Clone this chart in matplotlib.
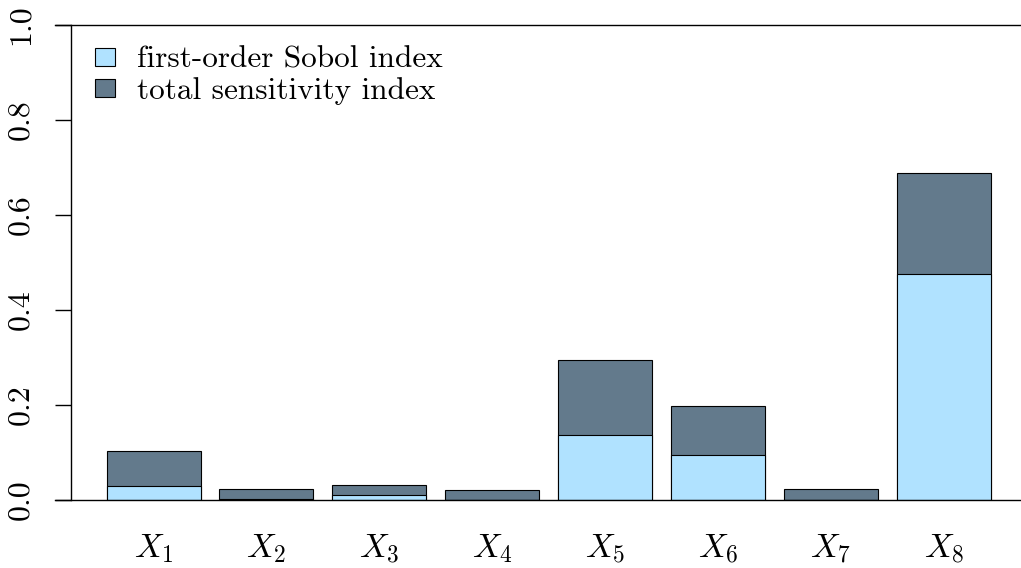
import matplotlib
matplotlib.use("Agg")
import matplotlib.pyplot as plt
import numpy as np

plt.rcParams['font.family'] = ['cmr10', 'DejaVu Serif']
plt.rcParams['mathtext.fontset'] = 'cm'
plt.rcParams['axes.formatter.use_mathtext'] = True

labels = [r'$X_1$', r'$X_2$', r'$X_3$', r'$X_4$', r'$X_5$', r'$X_6$', r'$X_7$', r'$X_8$']
first_order = [0.030, 0.002, 0.011, 0.001, 0.137, 0.095, 0.001, 0.476]
total = [0.103, 0.0225, 0.0316, 0.021, 0.295, 0.198, 0.0225, 0.688]
yticks = [0.0, 0.2, 0.4, 0.6, 0.8, 1.0]

light = '#B0E2FF'
dark = '#637A8C'

fig = plt.figure(figsize=(10.21, 5.68), dpi=100)
ax = fig.add_axes([71/1021, 68/568, 950/1021, 475/568])

x = np.arange(len(labels))
ax.bar(x, total, width=0.833, color=dark, edgecolor='black', linewidth=0.8,
       label='total sensitivity index')
ax.bar(x, first_order, width=0.833, color=light, edgecolor='black', linewidth=0.8,
       label='first-order Sobol index')

ax.set_xlim(-0.731, 7.684)
ax.set_ylim(0, 1)

for s in ['top', 'right', 'bottom']:
    ax.spines[s].set_visible(False)
ax.spines['left'].set_linewidth(1.0)

for yv in [0, 1]:
    ax.axhline(yv, xmin=-16/950, xmax=1, color='black', linewidth=1.0, clip_on=False)

ax.set_yticks(yticks)
ax.set_yticklabels(['%.1f' % v for v in yticks], rotation=90, va='center', fontsize=23)
ax.tick_params(axis='y', length=11.5, width=1.0, pad=15)

ax.set_xticks(x)
ax.set_xticklabels(labels, fontsize=24)
ax.tick_params(axis='x', length=0, pad=23)

h, l = ax.get_legend_handles_labels()
ax.legend(h[::-1], l[::-1], loc='upper left', bbox_to_anchor=(0.0253, 0.956), frameon=False,
          fontsize=22.5, handlelength=0.64, handleheight=0.51, handletextpad=0.7,
          labelspacing=0.1, borderaxespad=0, borderpad=0)

fig.savefig('out.png', dpi=100)
